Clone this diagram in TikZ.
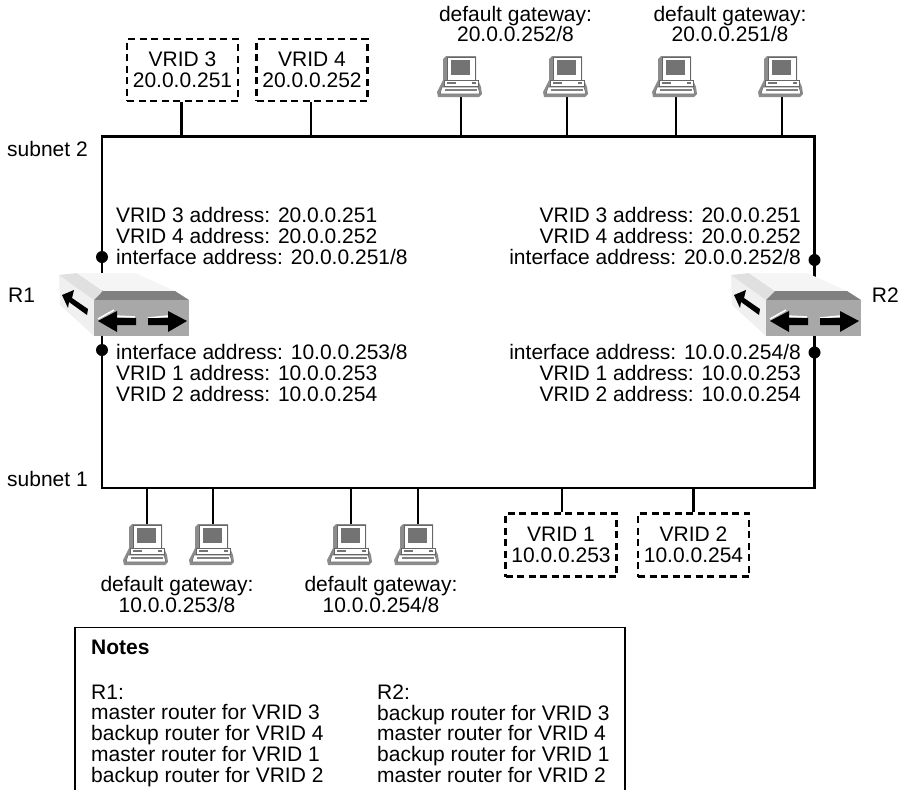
\documentclass[tikz,border=0pt]{standalone}
\usepackage{fontspec}
\setmainfont{Liberation Sans}
\begin{document}
\begin{tikzpicture}[x=1pt,y=-1pt,
  wire/.style={line width=2.6pt,black},
  stub/.style={line width=2.2pt,black},
  lbl/.style={inner sep=0pt,font=\fontsize{21}{20.8}\selectfont,align=left},
  ctr/.style={inner sep=0pt,font=\fontsize{21}{20.8}\selectfont,align=center},
  rgt/.style={inner sep=0pt,font=\fontsize{21}{20.8}\selectfont,align=right},
  vbox/.style={draw,line width=2.3pt,dash pattern=on 7pt off 4.5pt,minimum width=111pt,minimum height=62pt,inner sep=0pt,font=\fontsize{21}{21.5}\selectfont,align=center},
  dot/.style={circle,fill=black,minimum size=12pt,inner sep=0pt},
  pc/.pic={
    \fill[black!45] (-18,-38) -- (-15,-41) -- (15,-41) -- (15,-17) -- (17,-17) -- (20,-10) -- (21,-3) -- (18,0) -- (-23,0) -- (-24,-5) -- (-18,-17) -- cycle;
    \fill[white,draw=black!60,line width=.6pt] (-14,-40) rectangle (14,-17);
    \fill[black!55] (-10,-37) rectangle (9,-22);
    \fill[white,draw=black!60,line width=.6pt] (-17,-17) rectangle (17,-11);
    \fill[black!55] (-14,-15.5) rectangle (-5,-13.5);
    \fill[black!55] (11,-15.5) rectangle (15,-13.5);
    \fill[white,draw=black!60,line width=.6pt] (-19,-10) -- (17,-10) -- (19,-3) -- (-21,-3) -- cycle;
    \fill[black!50] (-16,-8) rectangle (16,-6);
  },
  rtr/.pic={
    \fill[black!6] (59,275) -- (94,300) -- (94,336) -- (60,305) -- cycle;
    \fill[black!12] (59,275) -- (77,273) -- (103,291) -- (94,300) -- cycle;
    \fill[black!4] (77,273) -- (135,273) -- (175,291) -- (103,291) -- cycle;
    \fill[black!50] (94,300) -- (103,291) -- (175,291) -- (189,300) -- cycle;
    \fill[black!34] (94,300) rectangle (189,336);
    \draw[white,line width=1.5pt] (98,319) -- (114,310);
    \draw[white,line width=1.5pt] (115,316) -- (135,317);
    \draw[white,line width=1.5pt] (148,318) -- (168,316);
    \fill[black] (98,321) -- (117,311) -- (117,318) -- (136,318) -- (136,325) -- (117,325) -- (117,332) -- cycle;
    \fill[black] (187,321) -- (168,311) -- (168,318) -- (148,318) -- (148,325) -- (168,325) -- (168,332) -- cycle;
    \fill[black] (62,295) -- (74,290) -- (72,298) -- (88,309) -- (87,315) -- (69,302) -- (68,308) -- cycle;
  }]
\useasboundingbox (0,0) rectangle (906,790);
\coordinate (tl) at (102,136.5);
\coordinate (tr) at (814.5,136.5);
\coordinate (br) at (814.5,488);
\coordinate (bl) at (102,488);
\draw[wire] (tl) -- (tr) -- (br) -- (bl) -- cycle;

% top VRID boxes
\node[vbox] (v3) at (182.5,70) {VRID 3\\20.0.0.251};
\node[vbox] (v4) at (312,70) {VRID 4\\20.0.0.252};
\coordinate (v3b) at (181.5,136.5);
\coordinate (v4b) at (311,136.5);
\draw[stub] (v3b |- v3.south) -- (v3b);
\draw[stub] (v4b |- v4.south) -- (v4b);

% bottom VRID boxes
\node[vbox,minimum height=63pt] (v1) at (561,545) {VRID 1\\10.0.0.253};
\node[vbox,minimum height=63pt] (v2) at (693.5,545) {VRID 2\\10.0.0.254};
\coordinate (v1t) at (562,488);
\coordinate (v2t) at (693.5,488);
\draw[stub] (v1t |- v1.north) -- (v1t);
\draw[stub] (v2) -- (v2t);

% computers top
\foreach \n/\x in {a/461,b/567,c/676,d/782}{
  \coordinate (p\n) at (\x,97);
  \coordinate (q\n) at (\x,136.5);
  \draw[stub] (p\n) -- (q\n);
  \pic at (\x,97) {pc};
}
% computers bottom
\foreach \n/\x in {e/147,f/213,g/351,h/418}{
  \coordinate (p\n) at (\x,488);
  \coordinate (q\n) at (\x,524);
  \draw[stub] (p\n) -- (q\n);
  \pic at (\x,565) {pc};
}
\node[ctr] (gw1) at (515.5,24) {default gateway:\\20.0.0.252/8};
\node[ctr] (gw2) at (730,24) {default gateway:\\20.0.0.251/8};
\node[ctr] (gw3) at (177,594.5) {default gateway:\\10.0.0.253/8};
\node[ctr] (gw4) at (381,594.5) {default gateway:\\10.0.0.254/8};

\node[lbl,anchor=west] (s2) at (7,149) {subnet 2};
\node[lbl,anchor=west] (s1) at (7,479) {subnet 1};
\node[lbl,anchor=west] (r1) at (8,295) {R1};
\node[lbl,anchor=east] (r2) at (899,295) {R2};

\node[lbl,anchor=west] (ta) at (116,236) {VRID 3 address: 20.0.0.251\\VRID 4 address: 20.0.0.252\\interface address: 20.0.0.251/8};
\node[rgt,anchor=east] (tb) at (801,236) {VRID 3 address: 20.0.0.251\\VRID 4 address: 20.0.0.252\\interface address: 20.0.0.252/8};
\node[lbl,anchor=west] (tc) at (116,373) {interface address: 10.0.0.253/8\\VRID 1 address: 10.0.0.253\\VRID 2 address: 10.0.0.254};
\node[rgt,anchor=east] (td) at (801,373) {interface address: 10.0.0.254/8\\VRID 1 address: 10.0.0.253\\VRID 2 address: 10.0.0.254};

\pic at (0,0) {rtr};
\pic at (672,0) {rtr};
\node[dot] (d1) at (102,257) {};
\node[dot] (d2) at (102,350) {};
\node[dot] (d3) at (814.5,260) {};
\node[dot] (d4) at (814.5,352.5) {};

% notes
\coordinate (n1) at (75,790);
\coordinate (n2) at (75,627.5);
\coordinate (n3) at (625,627.5);
\coordinate (n4) at (625,790);
\draw[line width=1.1pt] (n1) -- (n2) -- (n3) -- (n4);
\node[lbl,anchor=west] (nt) at (91,647) {\textbf{Notes}};
\node[lbl,anchor=north west] (nl) at (91,684.5) {R1:\\master router for VRID 3\\backup router for VRID 4\\master router for VRID 1\\backup router for VRID 2};
\node[lbl,anchor=north west] (nr) at (377,684.5) {R2:\\backup router for VRID 3\\master router for VRID 4\\backup router for VRID 1\\master router for VRID 2};
\end{tikzpicture}
\end{document}
